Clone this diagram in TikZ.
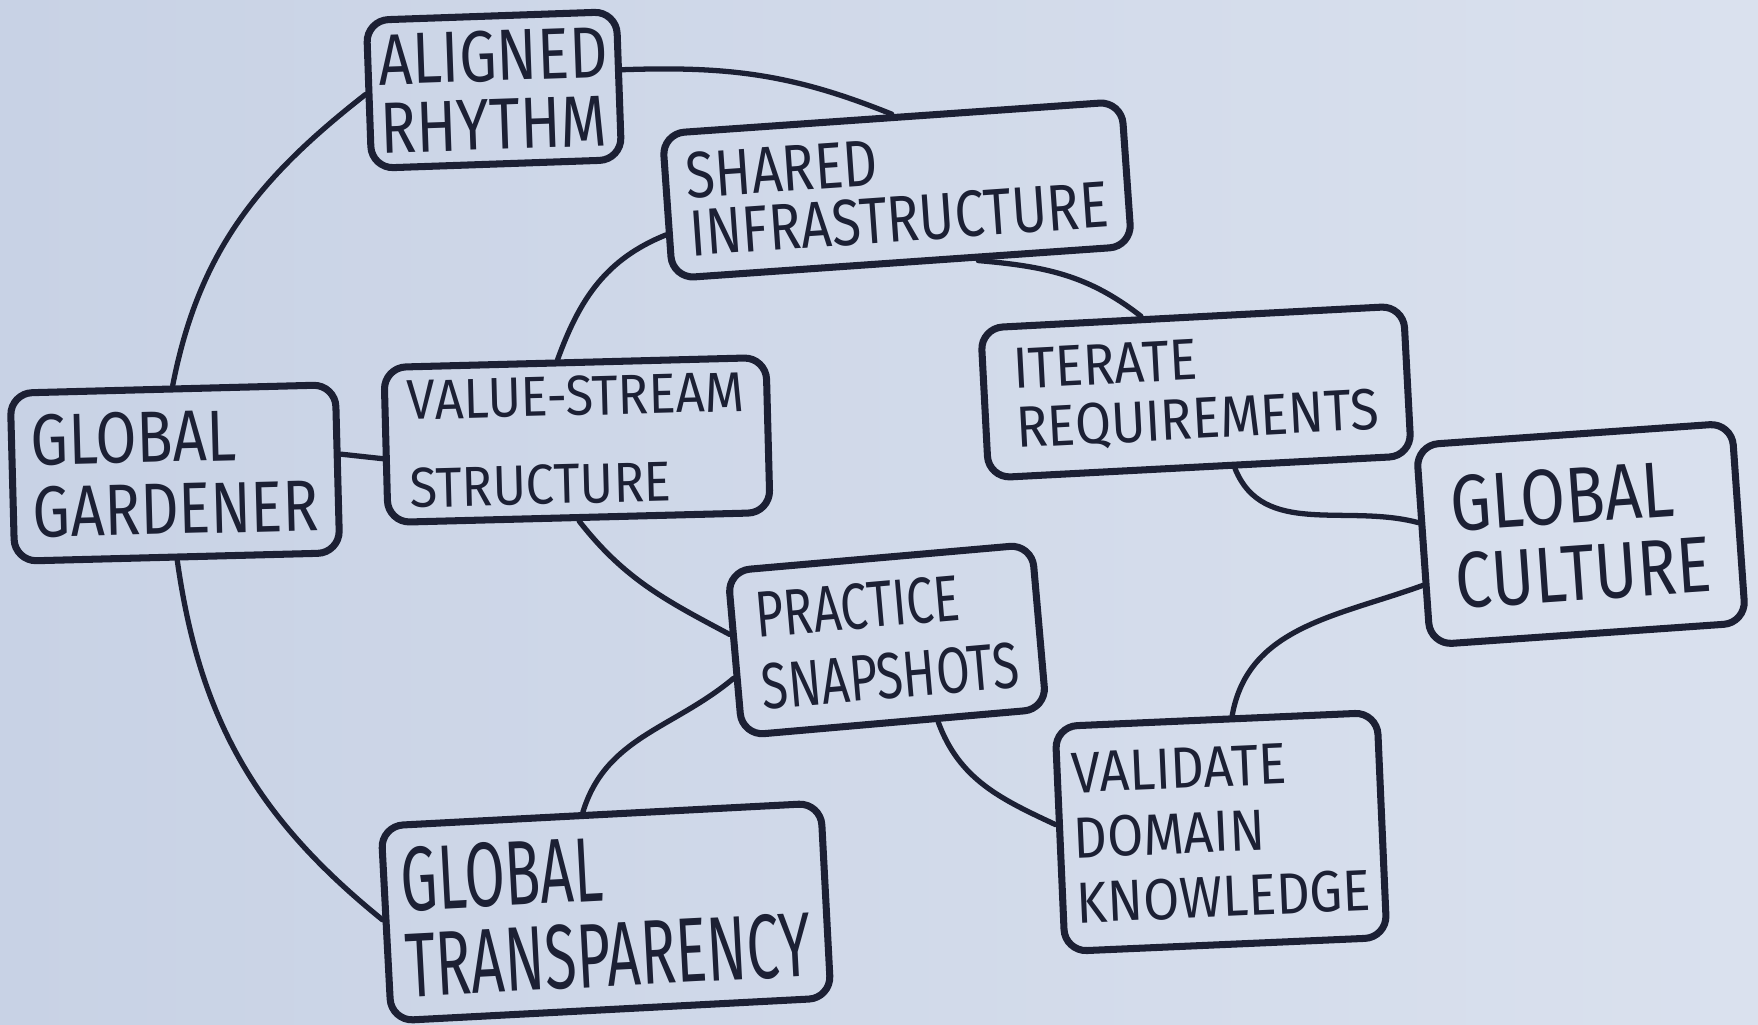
\documentclass[tikz,border=0pt]{standalone}
\usepackage{fontspec}
\setmainfont{Fira Sans}
\newfontfamily\hwa[FakeStretch=0.64]{Fira Sans}
\newfontfamily\hwb[FakeStretch=0.75]{Fira Sans}
\newfontfamily\hwc[FakeStretch=0.82]{Fira Sans}
\newfontfamily\hwd[FakeStretch=0.90]{Fira Sans}
\definecolor{ink}{RGB}{28,32,52}
\definecolor{paperL}{RGB}{200,210,229}
\definecolor{paperR}{RGB}{218,225,238}
\begin{document}
\begin{tikzpicture}[x=0.01cm,y=0.01cm,
  card/.style={draw=ink, line width=2pt, rounded corners=0.22cm, inner sep=0pt, align=left, text=ink},
  link/.style={draw=ink, line width=1.5pt, line cap=round}]
\path[use as bounding box, left color=paperL, right color=paperR] (0,0) rectangle (1758,-1024);

\node[card, minimum width=2.50cm, minimum height=1.48cm, rotate=2,
  font=\hwc\fontsize{20.6}{19.5}\selectfont] (al) at (494,-90) {ALIGNED\\RHYTHM};
\node[card, minimum width=4.60cm, minimum height=1.45cm, rotate=4,
  font=\hwc\fontsize{18.6}{16.5}\selectfont] (sh) at (897,-190) {SHARED\\INFRASTRUCTURE};
\node[card, minimum width=3.25cm, minimum height=1.68cm, rotate=1.5,
  font=\hwc\fontsize{20.6}{20.5}\selectfont] (gard) at (175,-473) {GLOBAL\\GARDENER};
\node[card, minimum width=3.82cm, minimum height=1.55cm, rotate=1.5,
  font=\hwd\fontsize{16}{25}\selectfont] (val) at (577,-440) {VALUE-STREAM\\STRUCTURE};
\node[card, minimum width=4.23cm, minimum height=1.50cm, rotate=3,
  font=\hwd\fontsize{16.5}{16.8}\selectfont] (it) at (1196,-392) {ITERATE\\REQUIREMENTS};
\node[card, minimum width=3.16cm, minimum height=2.00cm, rotate=4,
  font=\hwc\fontsize{22.5}{22}\selectfont] (cul) at (1581,-534) {GLOBAL\\CULTURE};
\node[card, minimum width=3.05cm, minimum height=1.65cm, rotate=5,
  font=\hwb\fontsize{18.5}{20.5}\selectfont] (pr) at (887,-640) {PRACTICE\\SNAPSHOTS};
\node[card, minimum width=3.22cm, minimum height=2.25cm, rotate=2.5,
  font=\hwd\fontsize{16.5}{18.5}\selectfont] (vd) at (1221,-832) {VALIDATE\\DOMAIN\\KNOWLEDGE};
\node[card, minimum width=4.40cm, minimum height=1.95cm, rotate=3,
  font=\hwa\fontsize{26}{24.5}\selectfont] (tr) at (606,-912) {GLOBAL\\TRANSPARENCY};

\draw[link] (gard.north) to[out=79,in=218] (al.west);
\draw[link] (al.7) to[out=2,in=158] (sh.north);
\draw[link] (sh.187) to[out=202,in=70] (val.102);
\draw[link] (sh.315) to[out=-5,in=142] (it.123);
\draw[link] (gard.5) -- (val.184);
\draw[link] (val.south) to[out=-52,in=152] (pr.173);
\draw[link] (it.294) to[out=-68,in=165] (cul.172);
\draw[link] (cul.194) to[out=200,in=80] (vd.82);
\draw[link] (pr.297) to[out=-70,in=155] (vd.175);
\draw[link] (pr.189) to[out=220,in=73] (tr.100);
\draw[link] (gard.south) to[out=-82,in=141] (tr.179);
\end{tikzpicture}
\end{document}
